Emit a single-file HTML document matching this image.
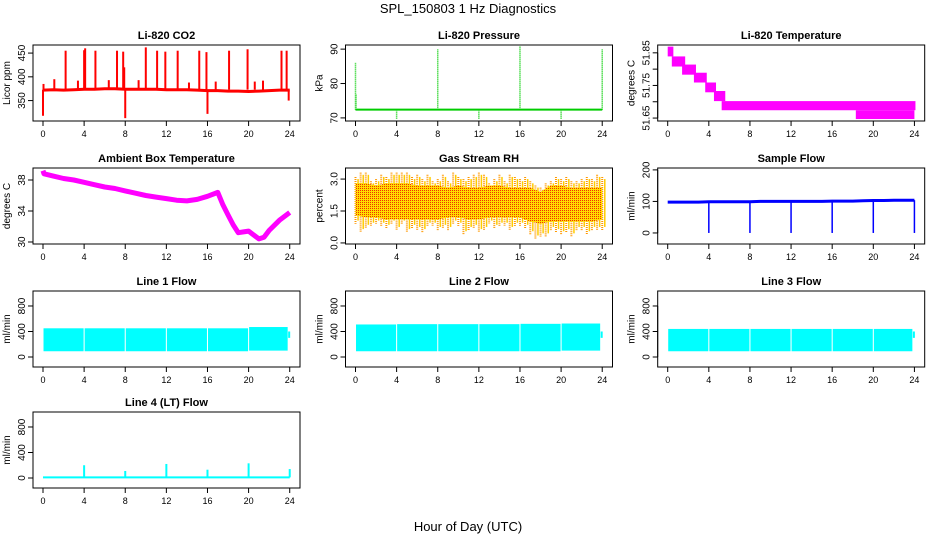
<!DOCTYPE html>
<html><head><meta charset="utf-8"><style>
html,body{margin:0;padding:0;background:#fff}
svg{display:block;font-family:"Liberation Sans",sans-serif}
</style></head><body>
<svg id="c" width="936" height="540" viewBox="0 0 936 540">
<defs>
<pattern id="rhpat" width="2" height="2" patternUnits="userSpaceOnUse">
<rect width="2" height="2" fill="#ffdd00"/><rect width="1" height="1" fill="#ee3300"/>
</pattern>
</defs>
<text x="468" y="13" text-anchor="middle" font-size="13">SPL_150803  1 Hz Diagnostics</text>
<text x="468" y="531" text-anchor="middle" font-size="13">Hour of Day (UTC)</text>
</svg>
<script>
// ---- data ----
const hours = [0,4,8,12,16,20,24];
const co2Base = [372,373,372,373,374,374,375,375,374,374,374,374,373,373,373,372,371,371,370,370,369,370,371,372,372];
const co2SpikeH = [0,0.05,1.1,2.2,3.4,4.0,4.1,5.1,6.4,7.2,7.8,7.9,8.0,9.3,10.0,11.1,11.9,13.1,14.2,15.2,15.9,16.0,16.8,18.1,19.9,20.6,21.4,23.2,23.7,23.9];
const co2SpikeV = [318,385,395,455,392,456,460,455,393,455,453,420,313,393,462,455,453,455,388,455,452,322,390,455,458,390,392,455,455,350];
const presBase = 72.4;
const presSpikeH = [0,0.05,4,8,12,16,20,24];
const presSpikeV = [86,77,69.5,90,69.5,91,69.5,90];
const tStart = [0,0.4,1.4,2.55,3.65,4.5,5.25,18.3];
const tEnd = [0.55,1.7,2.75,3.8,4.7,5.6,24.1,24];
const tLo = [51.839,51.808,51.783,51.759,51.729,51.702,51.674,51.647];
const tHi = [51.869,51.839,51.814,51.789,51.759,51.733,51.702,51.674];
const ambH = [0,0.1,1,2,3,4,5,6,7,8,9,10,11,12,13,14,15,16,17,17.5,18,18.5,19,19.5,20,20.5,21,21.5,22,23,24];
const ambV = [39.2,38.8,38.5,38.2,38.0,37.7,37.4,37.1,36.9,36.6,36.3,36.0,35.8,35.6,35.4,35.3,35.5,35.9,36.4,34.8,33.5,32.2,31.2,31.3,31.4,30.9,30.4,30.6,31.5,32.8,33.8];
const rhCoreHi = [2.8,2.8,2.7,2.8,2.8,2.8,2.7,2.7,2.7,2.6,2.7,2.6,2.6,2.7,2.7,2.6,2.6,2.6,2.4,2.7,2.7,2.6,2.6,2.6,2.6];
const rhCoreLo = [1.3,1.2,1.2,1.1,1.1,1.1,1.1,1.1,1.1,1.2,1.2,1.1,1.1,1.2,1.2,1.2,1.2,1.0,0.9,1.0,1.0,1.0,1.0,1.0,1.1];
const rhHi = [3.1,3.3,3.3,2.9,3.0,3.2,3.1,3.3,3.3,3.3,3.3,3.1,3.2,3.0,3.2,2.9,3.0,3.2,2.9,3.3,3.1,3.0,3.1,3.2,3.3,3.2,2.8,3.0,3.2,2.9,3.2,3.1,3.0,3.1,2.9,2.7,2.6,2.8,2.9,3.1,3.0,3.1,2.9,2.9,3.0,3.1,3.0,3.2,3.1];
const rhLo = [0.9,0.5,0.7,0.8,0.9,0.8,0.7,0.9,0.6,0.9,0.5,0.7,0.6,0.5,0.8,0.8,0.6,0.7,0.6,0.9,0.8,0.4,0.6,0.7,0.5,0.6,0.9,0.7,0.8,0.8,0.6,0.8,0.8,0.7,0.4,0.2,0.3,0.3,0.6,0.5,0.4,0.5,0.3,0.6,0.6,0.4,0.6,0.6,0.6];
const sfBase = [98,98,98,98,99,99,99,99,99,100,100,100,100,100,100,100,101,101,101,102,103,103,104,104,104];
const sfDipH = [4,8,12,16,20,24];
const sfDipV = [0,0,0,0,0,0];
const f1Top = [450,450,450,450,450,470];
const f1Bot = [90,90,90,90,90,100];
const f2Top = [510,515,515,515,520,525];
const f2Bot = [90,90,90,90,90,100];
const f3Top = [440,440,440,440,440,440];
const f3Bot = [90,90,90,90,90,90];
const f4Base = 10;
const f4SpikeH = [4,8,12,16,20,24];
const f4SpikeV = [200,110,220,130,230,140];
const tempTicks = [51.65,51.70,51.75,51.80,51.85];
const tempLabels = ['51.65','','51.75','','51.85'];

// ---- layout ----
const svg = document.getElementById('c');
const NS = 'http://www.w3.org/2000/svg';
const CX = [43,355.5,667.7];
const RY = [45,168,291,412];
const H = 76, PXH = 10.28;
function mk(tag, a, parent){
  const e = document.createElementNS(NS, tag);
  for (const k in a) e.setAttribute(k, a[k]);
  (parent||svg).appendChild(e);
  return e;
}
function panel(col,row,key,title,ylab,ymin,ymax,ticks,labels){
  const g = mk('g',{});
  
  
  const x0 = CX[col]-10, top = RY[row], bot = top+H, x1 = x0+267;
  const X = h => CX[col] + h*PXH;
  const Y = v => bot - (v-ymin)/(ymax-ymin)*H;
  const t = mk('text',{x:(x0+x1)/2,y:top-6,'text-anchor':'middle','font-size':11,'font-weight':'bold'},g);
  t.textContent = title;
  
  
  const yl = mk('text',{transform:`translate(${x0-23},${(top+bot)/2}) rotate(-90)`,'text-anchor':'middle','font-size':10},g);
  yl.textContent = ylab;
  
  
  const plot = mk('g',{},g);
  
  
  const box = mk('rect',{x:x0,y:top,width:267,height:H,fill:'none',stroke:'#000','stroke-width':1},g);
  
  
  const ya = mk('g',{},g);
  
  
  mk('line',{x1:x0,x2:x0,y1:Y(ticks[0]),y2:Y(ticks[ticks.length-1]),stroke:'#000'},ya);
  ticks.forEach((v,i)=>{
    mk('line',{x1:x0-5,x2:x0,y1:Y(v),y2:Y(v),stroke:'#000'},ya);
    const tl = mk('text',{transform:`translate(${x0-8},${Y(v)}) rotate(-90)`,'text-anchor':'middle','font-size':10},ya);
    tl.textContent = labels ? labels[i] : v;
  });
  const xa = mk('g',{},g);
  
  
  mk('line',{x1:X(0),x2:X(24),y1:bot,y2:bot,stroke:'#000'},xa);
  hours.forEach(h=>{
    mk('line',{x1:X(h),x2:X(h),y1:bot,y2:bot+5,stroke:'#000'},xa);
    const tl = mk('text',{x:X(h),y:bot+16,'text-anchor':'middle','font-size':9},xa);
    tl.textContent = h;
  });
  return {X,Y,plot};
}
function pts(X,Y,hs,vs){ return hs.map((h,i)=>X(h).toFixed(1)+','+Y(vs[i]).toFixed(1)).join(' '); }
const hourly = Array.from({length:25},(_,i)=>i);

// CO2
{ const p = panel(0,0,'co2','Li-820 CO2','Licor ppm',307,467,[350,400,450]);
  co2SpikeH.forEach((h,i)=>{ const l = mk('line',{x1:p.X(h),x2:p.X(h),y1:p.Y(373),y2:p.Y(co2SpikeV[i]),stroke:'#ff0000','stroke-width':2},p.plot);
     });
  const l = mk('polyline',{points:pts(p.X,p.Y,hourly,co2Base),fill:'none',stroke:'#ff0000','stroke-width':3},p.plot);
   }
// Pressure
{ const p = panel(1,0,'pressure','Li-820 Pressure','kPa',69.1,91.2,[70,80,90]);
  presSpikeH.forEach((h,i)=>{ const l = mk('line',{x1:p.X(h),x2:p.X(h),y1:p.Y(presBase),y2:p.Y(presSpikeV[i]),stroke:'#00cc00','stroke-width':1.5,'stroke-dasharray':'1 1'},p.plot);
     });
  const l = mk('line',{x1:p.X(0),x2:p.X(24),y1:p.Y(presBase),y2:p.Y(presBase),stroke:'#00cc00','stroke-width':2},p.plot);
   }
// Temperature
{ const p = panel(2,0,'licor-temp','Li-820 Temperature','degrees C',51.641,51.874,tempTicks,tempLabels);
  tStart.forEach((s,i)=>{ const r = mk('rect',{x:p.X(s),y:p.Y(tHi[i]),width:p.X(tEnd[i])-p.X(s),height:p.Y(tLo[i])-p.Y(tHi[i]),fill:'#ff00ff'},p.plot);
     }); }
// Ambient
{ const p = panel(0,1,'ambient','Ambient Box Temperature','degrees C',29.74,39.55,[30,34,38]);
  const l = mk('polyline',{points:pts(p.X,p.Y,ambH,ambV),fill:'none',stroke:'#ff00ff','stroke-width':5,'stroke-linejoin':'round'},p.plot);
   }
// RH
{ const p = panel(1,1,'rh','Gas Stream RH','percent',-0.05,3.52,[0.0,1.5,3.0],['0.0','1.5','3.0']);
  rhHi.forEach((v,i)=>{ const h=i*0.5; const l = mk('line',{x1:p.X(h),x2:p.X(h),y1:p.Y(v),y2:p.Y(rhLo[i]),stroke:'#ff9900','stroke-width':2,'stroke-dasharray':'1 1'},p.plot);
    
    const l2 = mk('line',{x1:p.X(h+0.25),x2:p.X(h+0.25),y1:p.Y(v-0.1),y2:p.Y(rhLo[i]+0.15),stroke:'#ffcc00','stroke-width':1.5},p.plot);
     });
  const poly = pts(p.X,p.Y,hourly,rhCoreHi)+' '+pts(p.X,p.Y,hourly.slice().reverse(),rhCoreLo.slice().reverse());
  const b = mk('polygon',{points:poly,fill:'url(#rhpat)'},p.plot);
   }
// Sample flow
{ const p = panel(2,1,'sample-flow','Sample Flow','ml/min',-35,206,[0,100,200]);
  sfDipH.forEach((h,i)=>{ const l = mk('line',{x1:p.X(h),x2:p.X(h),y1:p.Y(sfBase[h]),y2:p.Y(sfDipV[i]),stroke:'#0000ff','stroke-width':1.5},p.plot);
     });
  const l = mk('polyline',{points:pts(p.X,p.Y,hourly,sfBase),fill:'none',stroke:'#0000ff','stroke-width':3},p.plot);
   }
// Line flows
function flowPanel(col,row,key,title,top,bot){
  const p = panel(col,row,key,title,'ml/min',-157,1035,[0,400,800]);
  top.forEach((v,i)=>{ const h0=i*4+0.05, h1=Math.min(i*4+3.95,23.8);
    const r = mk('rect',{x:p.X(h0),y:p.Y(v),width:p.X(h1)-p.X(h0),height:p.Y(bot[i])-p.Y(v),fill:'#00ffff'},p.plot);
     });
  const e = mk('rect',{x:p.X(23.85),y:p.Y(400),width:2,height:p.Y(300)-p.Y(400),fill:'#00ffff'},p.plot);
  
}
flowPanel(0,2,'line1-flow','Line 1 Flow',f1Top,f1Bot);
flowPanel(1,2,'line2-flow','Line 2 Flow',f2Top,f2Bot);
flowPanel(2,2,'line3-flow','Line 3 Flow',f3Top,f3Bot);
{ const p = panel(0,3,'line4-flow','Line 4 (LT) Flow','ml/min',-157,1035,[0,400,800]);
  f4SpikeH.forEach((h,i)=>{ const l = mk('line',{x1:p.X(h),x2:p.X(h),y1:p.Y(f4Base),y2:p.Y(f4SpikeV[i]),stroke:'#00ffff','stroke-width':2},p.plot);
     });
  const l = mk('line',{x1:p.X(0),x2:p.X(24),y1:p.Y(f4Base),y2:p.Y(f4Base),stroke:'#00ffff','stroke-width':2},p.plot);
   }
</script>
</body></html>
